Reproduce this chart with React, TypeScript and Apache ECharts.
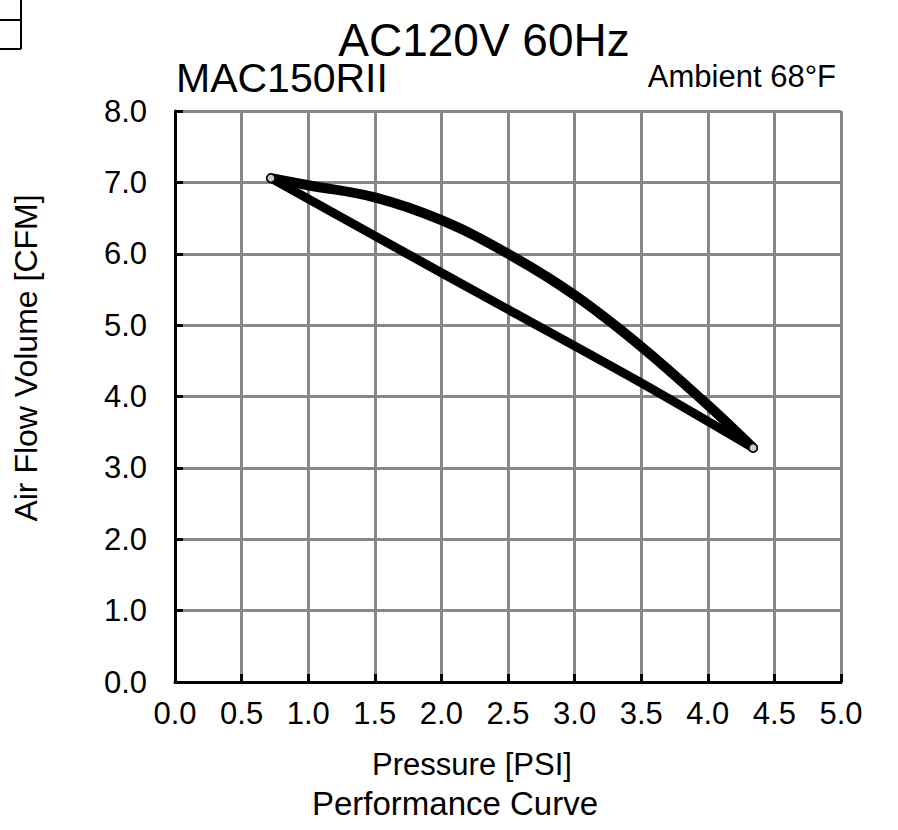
import React, { useEffect, useRef } from "react";
import * as echarts from "echarts";

const pressureTicks = [0, 0.5, 1.0, 1.5, 2.0, 2.5, 3.0, 3.5, 4.0, 4.5, 5.0];
const flowTicks = [0, 1, 2, 3, 4, 5, 6, 7, 8];

const upperPressure = [0.72, 1.0, 1.5, 2.0, 2.5, 3.0, 3.5, 4.0, 4.34];
const upperFlow = [7.06, 6.96, 6.79, 6.47, 6.0, 5.42, 4.7, 3.88, 3.28];

const lowerPressure = [0.72, 1.5, 2.5, 3.5, 4.34];
const lowerFlow = [7.06, 6.25, 5.22, 4.19, 3.28];

const titleText = "AC120V 60Hz";
const modelText = "MAC150RII";
const ambientText = "Ambient 68°F";
const xName = "Pressure [PSI]";
const yName = "Air Flow Volume [CFM]";
const footerText = "Performance Curve";

const FONT = "'Liberation Sans', Arial, sans-serif";

export default function App() {
  const ref = useRef<HTMLDivElement>(null);

  useEffect(() => {
    if (!ref.current) return;
    const chart = echarts.init(ref.current, null, { renderer: "svg" });
    const upper = upperPressure.map((p, i) => [p, upperFlow[i]]);
    const lower = lowerPressure.map((p, i) => [p, lowerFlow[i]]);
    const ends = [upper[0], upper[upper.length - 1]];

    chart.setOption({
      animation: false,
      backgroundColor: "#ffffff",
      textStyle: { fontFamily: FONT, color: "#000" },
      grid: { left: 175, top: 111, width: 666, height: 571 },
      xAxis: {
        type: "value",
        min: pressureTicks[0],
        max: pressureTicks[pressureTicks.length - 1],
        interval: 0.5,
        axisLine: { show: true, onZero: false, lineStyle: { color: "#000", width: 3 } },
        axisTick: { show: true, inside: true, length: 8, lineStyle: { color: "#000", width: 3 } },
        axisLabel: {
          margin: 16,
          fontSize: 31,
          color: "#000",
          fontFamily: FONT,
          formatter: (v: number) => v.toFixed(1),
        },
        splitLine: { show: true, lineStyle: { color: "#878787", width: 3 } },
      },
      yAxis: {
        type: "value",
        min: flowTicks[0],
        max: flowTicks[flowTicks.length - 1],
        interval: 1,
        axisLine: { show: true, onZero: false, lineStyle: { color: "#000", width: 3 } },
        axisTick: { show: true, inside: true, length: 8, lineStyle: { color: "#000", width: 3 } },
        axisLabel: {
          margin: 28,
          fontSize: 31,
          color: "#000",
          fontFamily: FONT,
          formatter: (v: number) => v.toFixed(1),
        },
        splitLine: { show: true, lineStyle: { color: "#878787", width: 3 } },
      },
      series: [
        {
          type: "line",
          data: upper,
          smooth: 0.4,
          showSymbol: false,
          lineStyle: { color: "#000", width: 10, cap: "round", join: "round" },
          z: 3,
        },
        {
          type: "line",
          data: lower,
          smooth: 0.3,
          showSymbol: false,
          lineStyle: { color: "#000", width: 9, cap: "round", join: "round" },
          z: 3,
        },
        {
          type: "scatter",
          data: ends,
          symbol: "circle",
          symbolSize: 8,
          itemStyle: { color: "#fff", borderColor: "#000", borderWidth: 1.5 },
          z: 4,
        },
      ],
      graphic: [
        { type: "line", shape: { x1: 0, y1: 20, x2: 21, y2: 20 }, style: { stroke: "#000", lineWidth: 2 } },
        { type: "line", shape: { x1: 21, y1: 0, x2: 21, y2: 49 }, style: { stroke: "#000", lineWidth: 2 } },
        { type: "line", shape: { x1: 0, y1: 49, x2: 21, y2: 49 }, style: { stroke: "#000", lineWidth: 2 } },
        {
          type: "text",
          x: 484,
          y: 40,
          style: { text: titleText, font: `46px ${FONT}`, fill: "#000", align: "center", verticalAlign: "middle" },
        },
        {
          type: "text",
          x: 176,
          y: 78,
          style: { text: modelText, font: `41px ${FONT}`, fill: "#000", align: "left", verticalAlign: "middle" },
        },
        {
          type: "text",
          x: 836,
          y: 76,
          style: { text: ambientText, font: `31px ${FONT}`, fill: "#000", align: "right", verticalAlign: "middle" },
        },
        {
          type: "text",
          x: 472,
          y: 764,
          style: { text: xName, font: `31px ${FONT}`, fill: "#000", align: "center", verticalAlign: "middle" },
        },
        {
          type: "text",
          x: 455,
          y: 803,
          style: { text: footerText, font: `33px ${FONT}`, fill: "#000", align: "center", verticalAlign: "middle" },
        },
        {
          type: "text",
          x: 26,
          y: 358,
          rotation: Math.PI / 2,
          style: { text: yName, font: `32px ${FONT}`, fill: "#000", align: "center", verticalAlign: "middle" },
        },
      ],
    });
    return () => chart.dispose();
  }, []);

  return (
    <div
      ref={ref}
      style={{ position: "fixed", left: 0, top: 0, width: 898, height: 830, background: "#fff" }}
    />
  );
}
